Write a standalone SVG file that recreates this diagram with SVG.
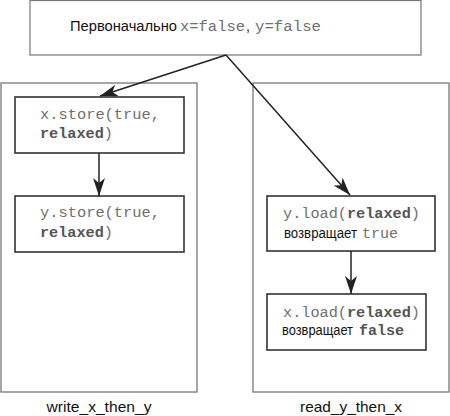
<svg xmlns="http://www.w3.org/2000/svg" width="450" height="416" viewBox="0 0 450 416">
<defs>
<style>
.s{font-family:"Liberation Sans",Arial,sans-serif;font-size:14px;fill:#111}
.m{font-family:"Liberation Mono","Courier New",monospace;font-size:14px;fill:#707070}
.b{font-weight:bold;fill:#555}
.lbl{font-family:"Liberation Sans",Arial,sans-serif;font-size:15px;fill:#111}
.outer{fill:#fff;stroke:#777;stroke-width:1.3}
.inner{fill:#fff;stroke:#333;stroke-width:1.6}
.top{fill:#fff;stroke:#777;stroke-width:1.2}
.conn{stroke:#222;stroke-width:1.5;fill:none}
</style>
<marker id="ah" viewBox="0 0 18 12" markerUnits="userSpaceOnUse" markerWidth="18" markerHeight="12" refX="18" refY="6" orient="auto">
<path d="M0,0 L18,6 L0,12 L5,6 z" fill="#222"/>
</marker>
</defs>
<rect width="450" height="416" fill="#fff"/>

<g id="init">
<rect class="top" x="30" y="0.5" width="391" height="54.5"/>
<text class="s" x="70" y="31" textLength="107" lengthAdjust="spacingAndGlyphs">Первоначально</text>
<text class="m" x="180" y="31" textLength="65" lengthAdjust="spacingAndGlyphs">x=false</text>
<text class="s" x="246" y="31">,</text>
<text class="m" x="255" y="31" textLength="66" lengthAdjust="spacingAndGlyphs">y=false</text>
</g>

<g id="write_x_then_y">
<rect class="outer" x="1" y="83" width="196" height="309"/>
<text class="lbl" x="99" y="412" text-anchor="middle" textLength="105" lengthAdjust="spacingAndGlyphs">write_x_then_y</text>
</g>

<g id="read_y_then_x">
<rect class="outer" x="253" y="83" width="196" height="309"/>
<text class="lbl" x="351" y="412" text-anchor="middle" textLength="102" lengthAdjust="spacingAndGlyphs">read_y_then_x</text>
</g>

<g id="x_store">
<rect class="inner" x="15" y="97" width="169" height="56"/>
<text class="m" x="40" y="119" textLength="120" lengthAdjust="spacingAndGlyphs">x.store(true,</text>
<text class="m" x="40" y="138" textLength="73" lengthAdjust="spacingAndGlyphs"><tspan class="b">relaxed</tspan>)</text>
</g>

<g id="y_store">
<rect class="inner" x="15" y="196" width="169" height="56"/>
<text class="m" x="40" y="217" textLength="120" lengthAdjust="spacingAndGlyphs">y.store(true,</text>
<text class="m" x="40" y="237" textLength="73" lengthAdjust="spacingAndGlyphs"><tspan class="b">relaxed</tspan>)</text>
</g>

<g id="y_load">
<rect class="inner" x="267" y="196" width="168" height="55"/>
<text class="m" x="283" y="218" textLength="137" lengthAdjust="spacingAndGlyphs">y.load(<tspan class="b">relaxed</tspan>)</text>
<text class="s" x="284" y="238" textLength="73" lengthAdjust="spacingAndGlyphs">возвращает</text>
<text class="m" x="362" y="238" textLength="36" lengthAdjust="spacingAndGlyphs">true</text>
</g>

<g id="x_load">
<rect class="inner" x="267" y="294" width="159" height="56"/>
<text class="m" x="283" y="317" textLength="137" lengthAdjust="spacingAndGlyphs">x.load(<tspan class="b">relaxed</tspan>)</text>
<text class="s" x="282" y="335" textLength="71" lengthAdjust="spacingAndGlyphs">возвращает</text>
<text class="m b" x="359" y="335" textLength="45" lengthAdjust="spacingAndGlyphs">false</text>
</g>

<g id="connectors">
<line class="conn" x1="226" y1="55" x2="100" y2="96" marker-end="url(#ah)"/>
<line class="conn" x1="226" y1="55" x2="350" y2="195" marker-end="url(#ah)"/>
<line class="conn" x1="99" y1="153" x2="99" y2="196" marker-end="url(#ah)"/>
<line class="conn" x1="351" y1="251" x2="351" y2="294" marker-end="url(#ah)"/>
</g>
</svg>
